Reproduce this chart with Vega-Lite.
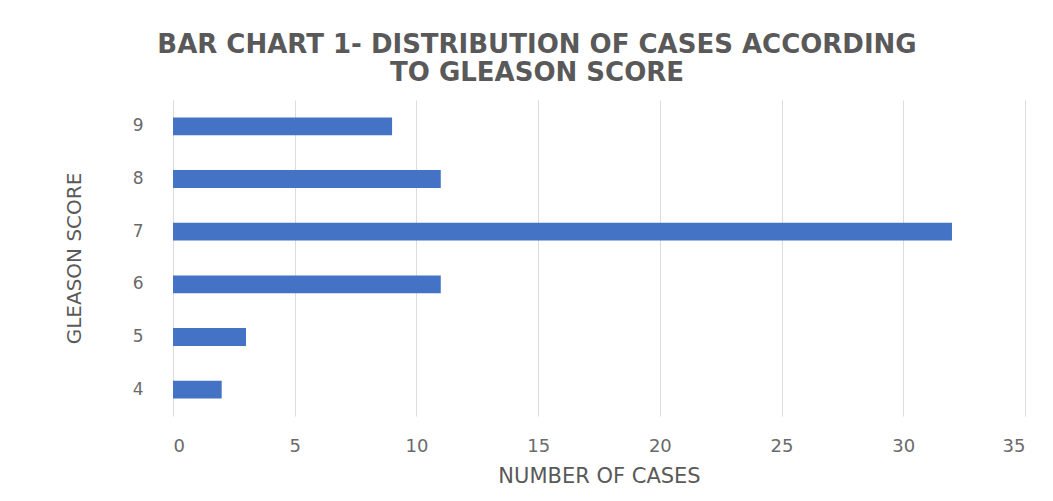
{
  "$schema": "https://vega.github.io/schema/vega-lite/v6.json",
  "autosize": {"type": "none"},
  "width": 852,
  "height": 316,
  "padding": {"left": 173, "top": 100, "right": 28, "bottom": 85},
  "background": "white",
  "title": {
    "text": ["BAR CHART 1- DISTRIBUTION  OF CASES ACCORDING", "TO GLEASON SCORE"],
    "font": "DejaVu Sans",
    "fontSize": 26,
    "fontWeight": "bold",
    "color": "#595959",
    "anchor": "middle",
    "dx": -62,
    "offset": 14,
    "lineHeight": 28
  },
  "data": {
    "values": [
      {"score": "9", "cases": 9},
      {"score": "8", "cases": 11},
      {"score": "7", "cases": 32},
      {"score": "6", "cases": 11},
      {"score": "5", "cases": 3},
      {"score": "4", "cases": 2}
    ]
  },
  "mark": {"type": "bar", "color": "#4472C4"},
  "encoding": {
    "y": {
      "field": "score",
      "type": "nominal",
      "sort": ["9", "8", "7", "6", "5", "4"],
      "scale": {"paddingInner": 0.66, "paddingOuter": 0.33},
      "axis": {
        "title": "GLEASON SCORE",
        "titleFont": "DejaVu Sans",
        "titleFontWeight": "normal",
        "titleFontSize": 20,
        "titleColor": "#595959",
        "titlePadding": 48,
        "labelFont": "DejaVu Sans",
        "labelFontSize": 17,
        "labelColor": "#6a6a6a",
        "labelPadding": 30,
        "ticks": false,
        "domain": false
      }
    },
    "x": {
      "field": "cases",
      "type": "quantitative",
      "scale": {"domain": [0, 35], "nice": false},
      "axis": {
        "values": [0, 5, 10, 15, 20, 25, 30, 35],
        "title": "NUMBER OF CASES",
        "titleFont": "DejaVu Sans",
        "titleFontWeight": "normal",
        "titleFontSize": 21,
        "titleColor": "#595959",
        "titlePadding": 10,
        "labelFont": "DejaVu Sans",
        "labelFontSize": 18,
        "labelColor": "#6a6a6a",
        "labelPadding": 21,
        "ticks": false,
        "domain": false,
        "grid": true,
        "gridColor": "#dcdcdc"
      }
    }
  },
  "config": {"view": {"stroke": null}}
}
